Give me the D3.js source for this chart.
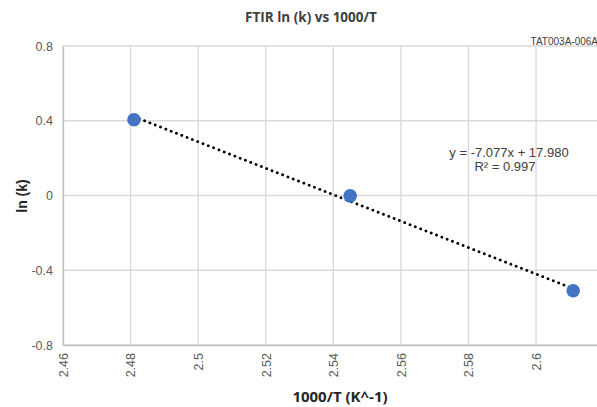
<!DOCTYPE html>
<html>
<head>
<meta charset="utf-8">
<script src="https://cdn.jsdelivr.net/npm/d3@7"></script>
<style>
	body { margin: 0; background: #fff; }
	text { font-family: "Liberation Sans", Arial, sans-serif; }
</style>
</head>
<body>
<div id="chart"></div>
<script>
// data
const invT = [2.481, 2.545, 2.611];
const lnK = [0.405, -0.002, -0.51];
const xTicks = [2.46, 2.48, 2.5, 2.52, 2.54, 2.56, 2.58, 2.6, 2.62];
const yTicks = [-0.8, -0.4, 0, 0.4, 0.8];
const slope = -7.077;
const intercept = 17.980;
const rSquared = 0.997;

const width = 597, height = 407;

const svg = d3.select('#chart').append('svg')
	.attr('width', width)
	.attr('height', height);

const x = d3.scaleLinear().domain([2.46, 2.62]).range([63, 603.6]);
const y = d3.scaleLinear().domain([-0.8, 0.8]).range([345, 46]);

// grid
svg.append('g')
	.selectAll('line.v')
	.data(xTicks)
	.enter().append('line')
	.attr('x1', d => x(d)).attr('x2', d => x(d))
	.attr('y1', y(0.8)).attr('y2', y(-0.8))
	.attr('stroke', '#d9d9d9').attr('stroke-width', 1.3);

svg.append('g')
	.selectAll('line.h')
	.data(yTicks)
	.enter().append('line')
	.attr('x1', x(2.46)).attr('x2', x(2.62))
	.attr('y1', d => y(d)).attr('y2', d => y(d))
	.attr('stroke', '#d9d9d9').attr('stroke-width', 1.3);

// axes
const xAxis = svg.append('g')
	.attr('transform', `translate(0,${y(-0.8)})`)
	.call(d3.axisBottom(x).tickValues(xTicks.slice(0, 8)).tickFormat(d => String(+d.toFixed(2))).tickSize(0));
xAxis.select('.domain').attr('stroke', '#bfbfbf').attr('stroke-width', 1.3);
xAxis.selectAll('text')
	.attr('transform', 'rotate(-90)')
	.attr('x', -8).attr('y', 0).attr('dy', '0.35em')
	.attr('text-anchor', 'end')
	.attr('fill', '#595959')
	.style('font-size', '12.5px');

const yAxis = svg.append('g')
	.attr('transform', `translate(${x(2.46)},0)`)
	.call(d3.axisLeft(y).tickValues(yTicks).tickFormat(d => String(+d.toFixed(1))).tickSize(0).tickPadding(10));
yAxis.select('.domain').attr('stroke', '#bfbfbf').attr('stroke-width', 1.3);
yAxis.selectAll('text')
	.attr('fill', '#595959')
	.style('font-size', '12.5px');

// trendline
const xMin = d3.min(invT), xMax = d3.max(invT);
svg.append('line')
	.attr('x1', x(xMin)).attr('y1', y(slope * xMin + intercept))
	.attr('x2', x(xMax)).attr('y2', y(slope * xMax + intercept))
	.attr('stroke', '#000')
	.attr('stroke-width', 2.8)
	.attr('stroke-linecap', 'round')
	.attr('stroke-dasharray', '0.1 5.6');

// points
svg.append('g')
	.selectAll('circle')
	.data(invT.map((d, i) => [d, lnK[i]]))
	.enter().append('circle')
	.attr('cx', d => x(d[0]))
	.attr('cy', d => y(d[1]))
	.attr('r', 6.8)
	.attr('fill', '#4472c4');

// titles
svg.append('text')
	.attr('x', 311).attr('y', 22)
	.attr('text-anchor', 'middle')
	.attr('fill', '#404040')
	.style('font-family', '"Open Sans", sans-serif')
	.style('font-weight', 'bold')
	.style('font-size', '13.5px')
	.text('FTIR ln (k) vs 1000/T');

svg.append('text')
	.attr('x', 598).attr('y', 45)
	.attr('text-anchor', 'end')
	.attr('fill', '#404040')
	.style('font-size', '10px')
	.text('TAT003A-006A');

svg.append('text')
	.attr('x', 340).attr('y', 402)
	.attr('text-anchor', 'middle')
	.attr('fill', '#262626')
	.style('font-family', '"Open Sans", sans-serif')
	.style('font-weight', 'bold')
	.style('font-size', '15px')
	.text('1000/T (K^-1)');

svg.append('text')
	.attr('transform', 'translate(27,196) rotate(-90)')
	.attr('text-anchor', 'middle')
	.attr('fill', '#262626')
	.style('font-weight', 'bold')
	.style('font-size', '14px')
	.text('ln (k)');

// equation
svg.append('text')
	.attr('x', 509).attr('y', 157)
	.attr('text-anchor', 'middle')
	.attr('fill', '#404040')
	.style('font-size', '13px')
	.text(`y = ${slope.toFixed(3)}x  + ${intercept.toFixed(3)}`);

svg.append('text')
	.attr('x', 505).attr('y', 171)
	.attr('text-anchor', 'middle')
	.attr('fill', '#404040')
	.style('font-size', '13px')
	.text(`R² = ${rSquared.toFixed(3)}`);
</script>
</body>
</html>
